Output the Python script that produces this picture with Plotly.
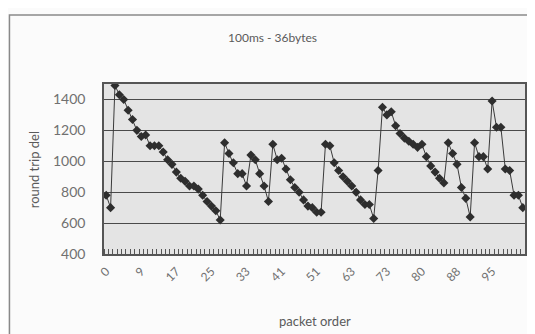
import plotly.graph_objects as go

# round trip delay values (one per packet, category position)
delay_values = [
    780, 700, 1490, 1430, 1400, 1330, 1270, 1200, 1160, 1170,
    1100, 1100, 1100, 1060, 1010, 980, 930, 890, 870, 840,
    840, 820, 780, 740, 710, 680, 620, 1120, 1050, 990,
    920, 920, 840, 1040, 1010, 920, 840, 740, 1110, 1010,
    1020, 950, 880, 830, 800, 750, 710, 700, 670, 670,
    1110, 1100, 990, 940, 900, 870, 840, 800, 750, 720,
    720, 630, 940, 1350, 1300, 1320, 1230, 1180, 1150, 1130,
    1110, 1090, 1110, 1030, 970, 930, 890, 860, 1120, 1050,
    980, 830, 760, 640, 1120, 1030, 1030, 950, 1390, 1220,
    1220, 950, 940, 780, 780, 700,
]
tick_positions = [0, 8, 16, 24, 32, 40, 48, 56, 64, 72, 80, 88]
tick_labels = ["0", "9", "17", "25", "33", "41", "51", "63", "73", "80", "88", "95"]
y_ticks = [400, 600, 800, 1000, 1200, 1400]

x_idx = list(range(len(delay_values)))

# page has an 8px body margin; compensate so the plot area lands at page px 104..527 x 84..254
OFF = 8
W, H = 535 - OFF, 334 - OFF
PL, PR, PT, PB = 104, 527, 84, 254
L, T = PL - OFF, PT - OFF
R = (W + OFF) - PR
B = (H + OFF) - PB
pw, ph = PR - PL, PB - PT

def px_x(px):
    return (px - PL) / pw

def px_y(py):
    return (PB - py) / ph

fig = go.Figure()
fig.add_trace(go.Scatter(
    x=x_idx, y=delay_values, mode="lines+markers",
    line=dict(color="#3a3a3a", width=1),
    marker=dict(symbol="diamond", size=7, color="#2e2e2e"),
    showlegend=False, hoverinfo="skip",
))

font_family = "Lato, 'Liberation Sans', sans-serif"

fig.update_layout(
    width=W, height=H,
    margin=dict(l=L, r=R, t=T, b=B),
    paper_bgcolor="#fbfbfb",
    plot_bgcolor="#e4e4e4",
    font=dict(family=font_family, color="#5a5a5a", size=11),
    xaxis=dict(
        range=[-0.5, len(delay_values) - 0.5],
        tickmode="array", tickvals=tick_positions, ticktext=tick_labels,
        tickangle=-45, ticks="", showgrid=False, zeroline=False,
        showline=True, linecolor="#555", linewidth=1.5, mirror=True,
        ticklabelstandoff=4,
        tickfont=dict(size=12, color="#707070"),
        minor=dict(tickmode="linear", tick0=-0.5, dtick=1, ticks="inside",
                   ticklen=5, tickcolor="#555", tickwidth=1, showgrid=False),
    ),
    yaxis=dict(
        range=[400, 1500], tickmode="array", tickvals=y_ticks,
        showgrid=True, gridcolor="#4a4a4a", gridwidth=1.3,
        zeroline=False, showline=True, linecolor="#555", linewidth=1.5,
        mirror=True, ticks="", ticklabelstandoff=14,
        tickfont=dict(size=14, color="#707070"),
    ),
    shapes=[dict(
        type="rect", xref="paper", yref="paper",
        x0=px_x(9), x1=px_x(545), y0=px_y(345), y1=px_y(15),
        line=dict(color="#8a8a8a", width=1.5), fillcolor="rgba(0,0,0,0)",
        layer="below",
    )],
    annotations=[
        dict(text="100ms - 36bytes", xref="paper", yref="paper",
             x=px_x(273), y=px_y(37), xanchor="center", yanchor="middle",
             showarrow=False, font=dict(size=12, color="#5a5a5a")),
        dict(text="round trip del", xref="paper", yref="paper",
             x=px_x(34), y=px_y(170), xanchor="center", yanchor="middle",
             showarrow=False, textangle=-90,
             font=dict(size=13, color="#5a5a5a")),
        dict(text="packet order", xref="paper", yref="paper",
             x=px_x(316), y=px_y(321), xanchor="center", yanchor="middle",
             showarrow=False, font=dict(size=13, color="#5a5a5a")),
    ],
)

fig.write_html("out.html")
